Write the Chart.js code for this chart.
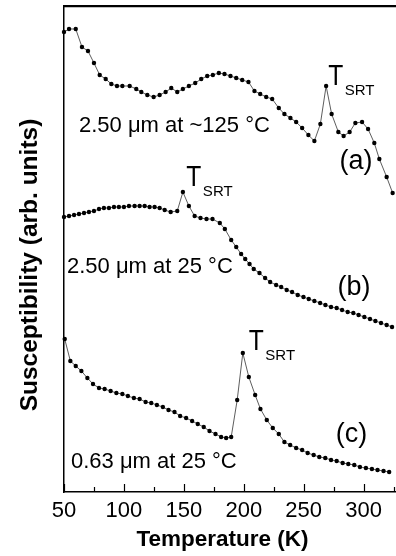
<!DOCTYPE html>
<html>
<head>
<meta charset="utf-8">
<script src="https://cdn.jsdelivr.net/npm/chart.js@4/dist/chart.umd.min.js"></script>
<style>
  html, body { margin: 0; padding: 0; background: #fff; }
  canvas { display: block; }
</style>
</head>
<body>
<canvas id="myChart" width="396" height="556"></canvas>
<script>
// curve (a): 2.50 um annealed at ~125 C
var tempA = [50, 54.2, 59.8, 65, 70, 75, 79.8, 84.8, 89.5, 94.2, 98.7, 104.8, 110.3, 114.5, 119.5, 124.8,
  129.8, 134.8, 139.5, 144.5, 149.2, 154.2, 159.5, 164.5, 169.5, 174.2, 179.2, 183.9, 188.9, 193.7,
  198.7, 203.9, 208.9, 213.7, 218.7, 223.7, 229.2, 233.9, 238.9, 243.7, 248.7, 253.9, 258.9, 263.9,
  268.7, 273.3, 278.9, 283.3, 288.3, 293.1, 298.7, 303.7, 308.9, 313.1, 319.2, 324.2];
var suscA = [460, 463, 463, 445, 441, 429, 417, 413, 408, 406, 406, 406, 403, 400, 397, 395,
  397, 400, 404, 400, 403, 406, 409, 413, 416, 417, 419, 418, 416, 414,
  412, 410, 401, 398, 395, 393, 384, 378, 374, 370, 364, 357, 351, 368,
  406, 378, 360, 356, 360, 369, 370, 363, 349, 333, 315, 299];

// curve (b): 2.50 um at 25 C
var tempB = [50, 54.2, 58.4, 62.5, 66.7, 70.8, 75, 79.2, 83.3, 87.5, 91.7, 95.8, 100, 104.2, 108.9,
  113.1, 117.3, 121.4, 125.6, 129.8, 134, 139, 144.5, 149.2, 154.2, 159, 163.9, 168.9, 173.9, 180,
  184.2, 189.5, 193.7, 197.8, 201.2, 204.8, 208.3, 213.1, 217.8, 222, 227, 231.2, 235.8, 240.3,
  245, 249.8, 254.2, 258.9, 263.7, 268.1, 272.8, 277.5, 282, 286.7, 291.4, 295.8, 300.6, 305.3,
  309.8, 314.5, 319.2, 323.7];
var suscB = [275, 276, 277, 278, 279, 280, 281, 283, 284, 284, 285, 285, 285, 286, 286,
  286, 286, 285, 285, 284, 282, 280, 281, 300, 286, 276, 274, 273, 273, 269,
  263, 252, 245, 238, 233, 228, 223, 219, 214, 210, 207, 205, 202, 200,
  197, 195, 193, 191, 189, 187, 185, 184, 182, 180, 179, 177, 175, 173,
  171, 169, 167, 165];

// curve (c): 0.63 um at 25 C
var tempC = [50.6, 55.3, 59.8, 64.5, 69.5, 74.2, 79.2, 83.9, 88.9, 93.7, 98.7, 103.3, 108.3, 113.1,
  118.1, 122.8, 127.5, 132.5, 137.2, 142.2, 146.9, 151.9, 156.9, 161.6, 166.6, 171.4, 176.4, 181.1,
  185.3, 189.5, 194.5, 199.2, 204.2, 209.5, 213.9, 219.2, 224.2, 229.2, 233.9, 238.7, 243.7, 248.7,
  253.3, 258.3, 263, 268, 272.8, 277.5, 282.5, 287.2, 292.2, 296.9, 301.9, 306.9, 311.6, 316.6, 321.3];
var suscC = [153, 131, 126, 121, 114, 108, 104, 103, 101, 99, 98, 96, 94, 93,
  90, 89, 87, 85, 82, 80, 76, 74, 71, 68, 65, 61, 58, 55,
  54, 55, 92, 139, 115, 97, 83, 72, 64, 58, 50, 47, 44, 42,
  39, 37, 35, 34, 32, 31, 29, 28, 27, 25, 24, 23, 22, 21, 20];

var xTicks = [50, 100, 150, 200, 250, 300];
var xMinorTicks = [75, 125, 175, 225, 275, 325];

var xTitle = 'Temperature (K)';
var yTitle = 'Susceptibility (arb. units)';

// text labels, placed in data units (K, arb. units)
var labels = [
  { text: '2.50 \u03bcm at ~125 \u00b0C', t: 62.5, v: 360, size: 22 },
  { text: '2.50 \u03bcm at 25 \u00b0C', t: 52.5, v: 219, size: 22 },
  { text: '0.63 \u03bcm at 25 \u00b0C', t: 55.8, v: 24, size: 22 },
  { text: '(a)', t: 279.8, v: 323, size: 27 },
  { text: '(b)', t: 278.2, v: 197, size: 27 },
  { text: '(c)', t: 276.7, v: 50, size: 27 }
];
var tsrt = [
  { t: 270.4, v: 407 },
  { t: 152.1, v: 306 },
  { t: 204.2, v: 142.5 }
];

function pts(xs, ys) {
  return xs.map(function (x, i) { return { x: x, y: ys[i] }; });
}

var FONT = '"Liberation Sans", Arial, Helvetica, sans-serif';

function series(xs, ys) {
  return {
    data: pts(xs, ys),
    showLine: true,
    borderColor: '#333',
    borderWidth: 0.8,
    pointRadius: 2.2,
    pointBackgroundColor: '#000',
    pointBorderWidth: 0,
    clip: false
  };
}

// inward ticks, top frame line, annotations and axis titles
var decor = {
  id: 'decor',
  afterDraw: function (chart) {
    var ctx = chart.ctx;
    var x = chart.scales.x, y = chart.scales.y;
    var a = chart.chartArea;
    ctx.save();
    ctx.setLineDash([]);
    ctx.globalAlpha = 1;
    ctx.strokeStyle = '#000';
    ctx.lineWidth = 1.5;
    ctx.beginPath();
    ctx.moveTo(a.left, a.top + 0.5);
    ctx.lineTo(a.right, a.top + 0.5);
    ctx.stroke();
    ctx.lineWidth = 1.2;
    xTicks.forEach(function (t) {
      var px = Math.round(x.getPixelForValue(t)) + 0.5;
      ctx.beginPath(); ctx.moveTo(px, a.bottom); ctx.lineTo(px, a.bottom - 8); ctx.stroke();
    });
    xMinorTicks.forEach(function (t) {
      var px = Math.round(x.getPixelForValue(t)) + 0.5;
      ctx.beginPath(); ctx.moveTo(px, a.bottom); ctx.lineTo(px, a.bottom - 5); ctx.stroke();
    });

    ctx.fillStyle = '#000';
    ctx.textBaseline = 'alphabetic';
    ctx.textAlign = 'left';
    labels.forEach(function (l) {
      ctx.font = l.size + 'px ' + FONT;
      ctx.fillText(l.text, x.getPixelForValue(l.t), y.getPixelForValue(l.v));
    });
    tsrt.forEach(function (l) {
      var px = x.getPixelForValue(l.t), py = y.getPixelForValue(l.v);
      ctx.save();
      ctx.translate(px, py);
      ctx.scale(0.85, 1);
      ctx.font = '29px ' + FONT;
      ctx.fillText('T', 0, 0);
      ctx.restore();
      ctx.font = '15px ' + FONT;
      ctx.fillText('SRT', px + 16.5, py + 10);
    });

    ctx.textAlign = 'center';
    ctx.font = 'bold 22.5px ' + FONT;
    ctx.fillText(xTitle, 222.5, 546);
    ctx.save();
    ctx.translate(37, 265);
    ctx.rotate(-Math.PI / 2);
    ctx.font = 'bold 24.5px ' + FONT;
    ctx.fillText(yTitle, 0, 0);
    ctx.restore();
    ctx.restore();
  }
};

new Chart('myChart', {
  type: 'scatter',
  data: {
    datasets: [series(tempA, suscA), series(tempB, suscB), series(tempC, suscC)]
  },
  options: {
    responsive: false,
    animation: false,
    layout: { autoPadding: false, padding: { left: 64, right: 0, top: 6, bottom: 25.6 } },
    plugins: { legend: { display: false }, tooltip: { enabled: false } },
    scales: {
      x: {
        type: 'linear',
        min: 50,
        max: 327,
        afterBuildTicks: function (scale) {
          scale.ticks = xTicks.map(function (v) { return { value: v }; });
        },
        afterFit: function (scale) {
          scale.paddingLeft = 0;
          scale.paddingRight = 0;
        },
        ticks: { color: '#000', padding: 6, maxRotation: 0, font: { family: FONT, size: 22 } },
        grid: { display: false, drawTicks: false },
        border: { display: true, color: '#000', width: 1.5 }
      },
      xTop: {
        type: 'linear',
        position: 'top',
        min: 50,
        max: 327,
        ticks: { display: false },
        grid: { display: false, drawTicks: false },
        border: { display: true, color: '#000', width: 1.5 }
      },
      y: {
        type: 'linear',
        min: 0,
        max: 486,
        ticks: { display: false },
        grid: { display: false, drawTicks: false },
        border: { display: true, color: '#000', width: 1.5 }
      }
    }
  },
  plugins: [decor]
});
</script>
</body>
</html>
